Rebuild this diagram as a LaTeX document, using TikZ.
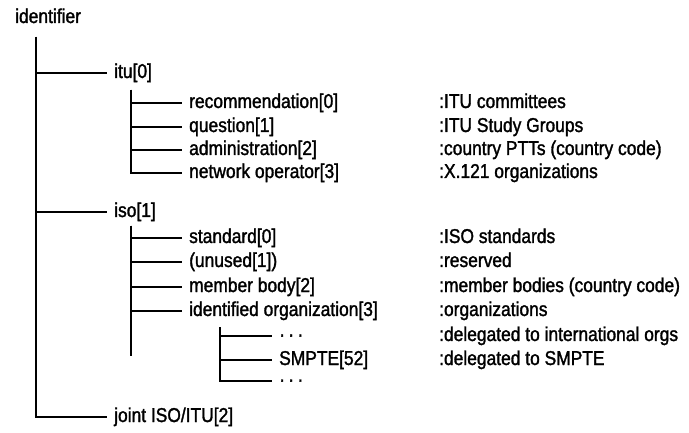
\documentclass[tikz,border=0pt]{standalone}
\usepackage{fontspec}
\setmainfont{Liberation Sans}[FakeStretch=0.87, FakeBold=1.5]
\begin{document}
\begin{tikzpicture}[x=1pt, y=-1pt,
    entry/.style={anchor=west, inner xsep=7pt, inner ysep=0pt, text height=14pt, text depth=4pt, font=\fontsize{20}{22}\selectfont},
    desc/.style={entry, inner xsep=0pt},
    edge/.style={line width=1.8pt}
]
\useasboundingbox (0,0) rectangle (689,433);

% Root
\node[entry, inner xsep=0pt] (identifier) at (15,18) {identifier};
\coordinate (rootTop) at (36,37);

% First level
\node[entry] (itu)   at (107,73)  {itu[0]};
\node[entry] (iso)   at (107,212) {iso[1]};
\node[entry] (joint) at (107,417) {joint ISO/ITU[2]};

% Children of itu
\coordinate (ituTop) at (131,90);
\node[entry] (rec)  at (182,103) {recommendation[0]};
\node[entry] (ques) at (182,127) {question[1]};
\node[entry] (adm)  at (182,150) {administration[2]};
\node[entry] (net)  at (182,173) {network operator[3]};

% Children of iso
\coordinate (isoTop) at (131,226);
\coordinate (isoEnd) at (131,356);
\node[entry] (std)    at (182,238) {standard[0]};
\node[entry] (unused) at (182,262) {(unused[1])};
\node[entry] (member) at (182,287) {member body[2]};
\node[entry] (ident)  at (182,311) {identified organization[3]};

% Children of identified organization
\coordinate (identTop) at (220,327);
\node[entry] (dotsA) at (272,336) {·\,·\,·};
\node[entry] (smpte) at (272,360) {SMPTE[52]};
\node[entry] (dotsB) at (272,381) {·\,·\,·};

% Descriptions
\node[desc] (recD)    at (439,103) {:ITU committees};
\node[desc] (quesD)   at (439,127) {:ITU Study Groups};
\node[desc] (admD)    at (439,150) {:country PTTs (country code)};
\node[desc] (netD)    at (439,173) {:X.121 organizations};
\node[desc] (stdD)    at (439,238) {:ISO standards};
\node[desc] (unusedD) at (439,262) {:reserved};
\node[desc] (memberD) at (439,287) {:member bodies (country code)};
\node[desc] (identD)  at (439,311) {:organizations};
\node[desc] (dotsAD)  at (439,336) {:delegated to international orgs};
\node[desc] (smpteD)  at (439,360) {:delegated to SMPTE};

% Tree edges
\foreach \n in {itu,iso,joint}
    \draw[edge] (rootTop) |- (\n.west);
\foreach \n in {rec,ques,adm,net}
    \draw[edge] (ituTop) |- (\n.west);
\foreach \n in {std,unused,member,ident}
    \draw[edge] (isoTop) |- (\n.west);
\draw[edge] (isoTop) -- (isoEnd);
\foreach \n in {dotsA,smpte,dotsB}
    \draw[edge] (identTop) |- (\n.west);

\end{tikzpicture}
\end{document}
